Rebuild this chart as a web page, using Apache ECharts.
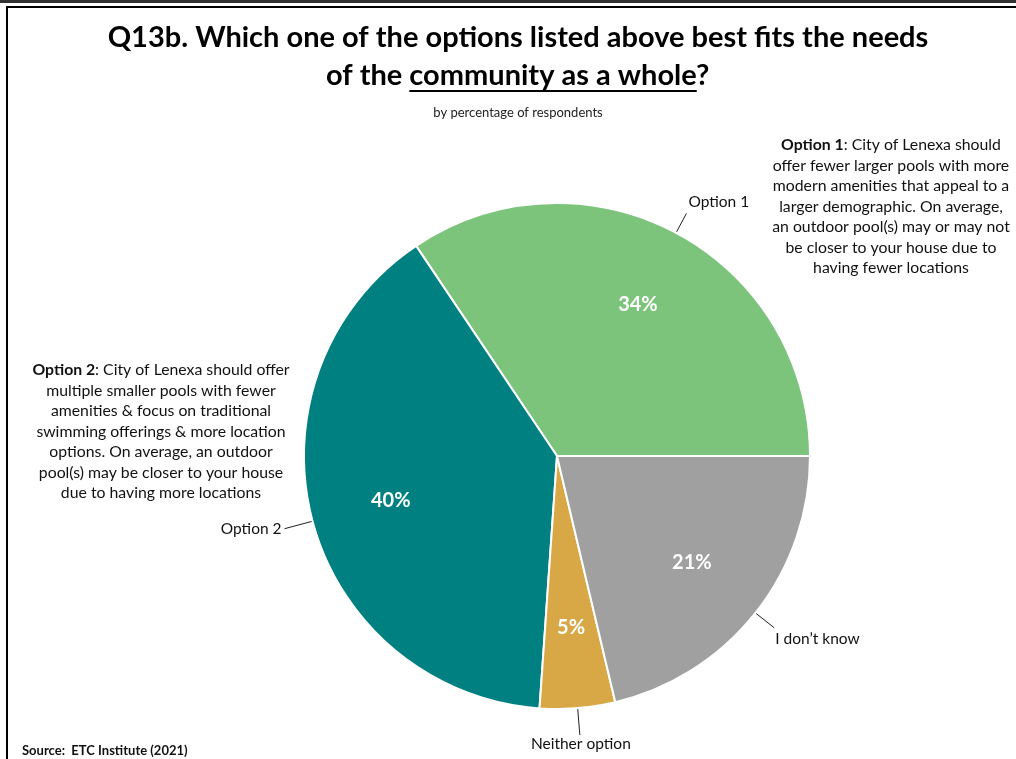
<!DOCTYPE html>
<html>
<head>
<meta charset="utf-8">
<script src="https://cdn.jsdelivr.net/npm/echarts@6/dist/echarts.min.js"></script>
<style>
html,body{margin:0;padding:0;background:#fff;}
#chart{width:1016px;height:759px;}
</style>
</head>
<body>
<div id="chart"></div>
<script>
// ---- data ----
const categories = ['Option 1', 'Option 2', 'Neither option', 'I don\u2019t know'];
const values = [34.4, 39.5, 4.8, 21.3];
const colors = ['#7cc47c', '#008080', '#d9a846', '#a0a0a0'];

const titleLine1 = 'Q13b. Which one of the options listed above best fits the needs';
const titleLine2a = 'of the ';
const titleLine2b = 'community as a whole';
const titleLine2c = '?';
const subtitle = 'by percentage of respondents';
const note1Bold = 'Option 1';
const note1Lines = [': City of Lenexa should', 'offer fewer larger pools with more', 'modern amenities that appeal to a', 'larger demographic. On average,', 'an outdoor pool(s) may or may not', 'be closer to your house due to', 'having fewer locations'];
const note2Bold = 'Option 2';
const note2Lines = [': City of Lenexa should offer', 'multiple smaller pools with fewer', 'amenities & focus on traditional', 'swimming offerings & more location', 'options. On average, an outdoor', 'pool(s) may be closer to your house', 'due to having more locations'];
const sourceText = 'Source:  ETC Institute (2021)';

const FONT = 'Lato, "Liberation Sans", sans-serif';
const chart = echarts.init(document.getElementById('chart'), null, {renderer: 'canvas'});

// measure for underline
const cv = document.createElement('canvas').getContext('2d');
const titleSize = 29;
cv.font = 'bold ' + titleSize + 'px Lato';
const wA = cv.measureText(titleLine2a).width;
const wB = cv.measureText(titleLine2b).width;
const wC = cv.measureText(titleLine2c).width;
const line2Left = 518 - (wA + wB + wC) / 2;
const NOTE = 15.8;
const LBL = 15.5;

// label line geometry config (not data)
const lineLen = [22, 29, 27, 24];
const labelPlace = [
  (p) => ({x: p[0] + 2, y: p[1] - 3, align: 'left', verticalAlign: 'bottom'}),
  (p) => ({x: p[0] - 3, y: p[1], align: 'right', verticalAlign: 'middle'}),
  (p) => ({x: p[0] + 1, y: p[1] + 1, align: 'center', verticalAlign: 'top'}),
  (p) => ({x: p[0] + 1, y: p[1] + 3, align: 'left', verticalAlign: 'top'})
];

const pieData = categories.map((c, i) => ({
  name: c, value: values[i],
  itemStyle: {color: colors[i]},
  labelLine: {length: lineLen[i], length2: 0}
}));

function noteGraphics(boldWord, lines, cx, y0, lh) {
  const els = [];
  cv.font = 'bold ' + NOTE + 'px Lato';
  const wb = cv.measureText(boldWord).width;
  cv.font = NOTE + 'px Lato';
  const wr = cv.measureText(lines[0]).width;
  els.push({
    type: 'text', x: cx - (wb + wr) / 2, y: y0,
    style: {text: '{b|' + boldWord + '}{n|' + lines[0] + '}', verticalAlign: 'middle',
      rich: {b: {fontFamily: FONT, fontSize: NOTE, fontWeight: 'bold', fill: '#111'},
             n: {fontFamily: FONT, fontSize: NOTE, fill: '#111'}}}
  });
  for (let i = 1; i < lines.length; i++) {
    els.push({type: 'text', x: cx, y: y0 + i * lh,
      style: {text: lines[i], fontFamily: FONT, fontSize: NOTE, fill: '#111', align: 'center', verticalAlign: 'middle'}});
  }
  return els;
}

const option = {
  backgroundColor: '#ffffff',
  animation: false,
  graphic: [
    {type: 'rect', shape: {x: 0, y: 0, width: 1016, height: 3}, style: {fill: '#333'}},
    {type: 'rect', shape: {x: 6, y: 6, width: 1010, height: 2}, style: {fill: '#000'}},
    {type: 'rect', shape: {x: 6, y: 6, width: 2, height: 753}, style: {fill: '#000'}},
    {type: 'text', x: 518, y: 38, style: {text: titleLine1, fontFamily: FONT, fontSize: titleSize, fontWeight: 'bold', fill: '#000', align: 'center', verticalAlign: 'middle'}},
    {type: 'text', x: line2Left, y: 76, style: {text: titleLine2a + titleLine2b + titleLine2c, fontFamily: FONT, fontSize: titleSize, fontWeight: 'bold', fill: '#000', align: 'left', verticalAlign: 'middle'}},
    {type: 'rect', shape: {x: line2Left + wA, y: 90, width: wB, height: 2}, style: {fill: '#000'}},
    {type: 'text', x: 518, y: 113, style: {text: subtitle, fontFamily: FONT, fontSize: 13, fill: '#222', align: 'center', verticalAlign: 'middle'}},
    ...noteGraphics(note1Bold, note1Lines, 891, 145, 20.5),
    ...noteGraphics(note2Bold, note2Lines, 161, 370, 20.5),
    {type: 'text', x: 22, y: 751, style: {text: sourceText, fontFamily: FONT, fontSize: 13, fontWeight: 'bold', fill: '#111', align: 'left', verticalAlign: 'middle'}}
  ],
  series: [
    {
      type: 'pie',
      center: [557, 456],
      radius: [0, 253],
      startAngle: 0,
      clockwise: false,
      avoidLabelOverlap: false,
      silent: true,
      itemStyle: {borderColor: '#fff', borderWidth: 2},
      label: {show: true, position: 'outside', formatter: '{b}', fontFamily: FONT, fontSize: LBL, color: '#111'},
      labelLine: {show: true, lineStyle: {color: '#222', width: 1}},
      labelLayout: function (params) {
        const pts = params.labelLinePoints;
        if (!pts) return {};
        const end = pts[pts.length - 1];
        const r = labelPlace[params.dataIndex](end);
        r.labelLinePoints = pts;
        return r;
      },
      data: pieData
    },
    {
      type: 'pie',
      center: [557, 456],
      radius: [0, 338],
      startAngle: 0,
      clockwise: false,
      silent: true,
      z: 5,
      itemStyle: {color: 'rgba(0,0,0,0)', borderWidth: 0},
      label: {show: true, position: 'inside', formatter: (p) => Math.round(p.value) + '%', fontFamily: FONT, fontSize: 20, fontWeight: 'bold', color: '#fff'},
      labelLine: {show: false},
      data: categories.map((c, i) => ({name: c, value: values[i]}))
    }
  ]
};
chart.setOption(option);
</script>
</body>
</html>
